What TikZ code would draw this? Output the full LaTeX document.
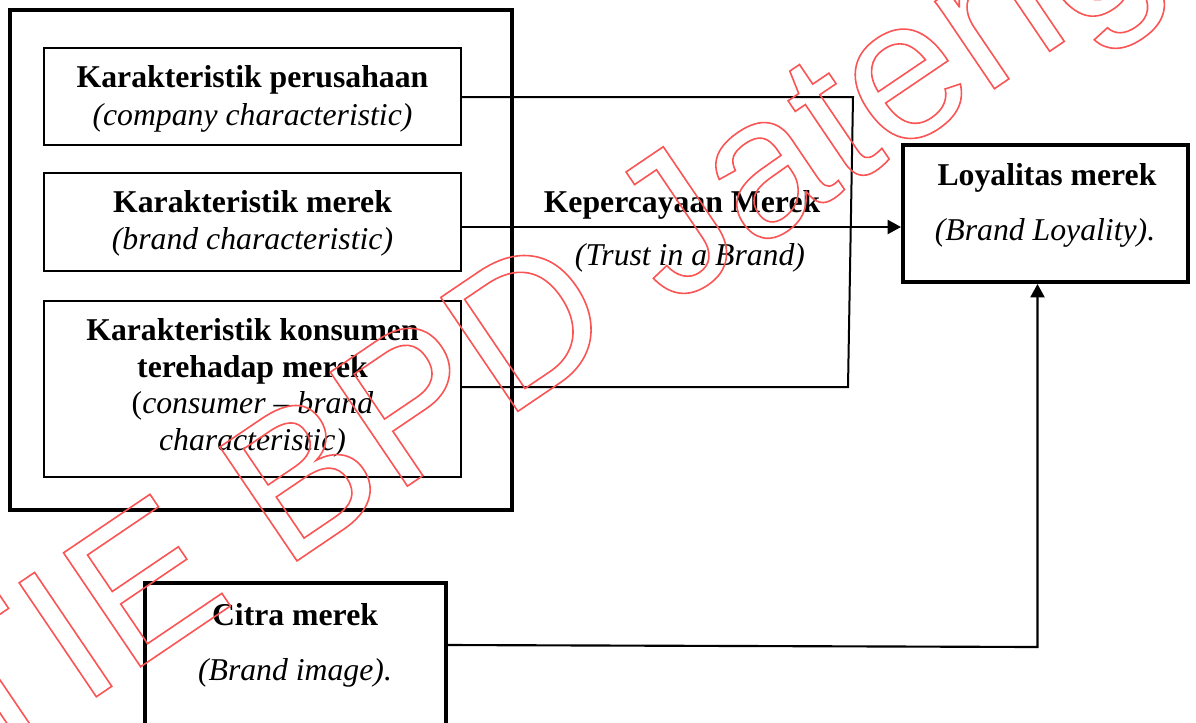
\documentclass[tikz,border=0pt]{standalone}
\usepackage{fontspec}
\setmainfont{Liberation Serif}
\newfontfamily\wmfont[Kerning=Off]{Liberation Sans}
\usetikzlibrary{arrows.meta}
\definecolor{wmred}{RGB}{250,85,85}
\begin{document}
\begin{tikzpicture}[x=0.75pt,y=-0.75pt,
  every node/.style={inner sep=0pt, outer sep=0pt},
  thinbox/.style={draw, line width=1.5pt},
  thickbox/.style={draw, line width=3pt},
  framebox/.style={draw, line width=2.5pt},
  tbold/.style={anchor=base, font=\fontsize{23.8}{27.6}\selectfont\bfseries},
  titalic/.style={anchor=base, font=\fontsize{23.8}{27.6}\selectfont\itshape},
  tplain/.style={anchor=base, font=\fontsize{23.8}{27.6}\selectfont},
  conn/.style={line width=1.5pt, line join=miter},
  arr/.style={line width=1.6pt, line join=miter, -{Triangle[length=10pt,width=10.5pt]}},
  wmark/.style={anchor=base west, text=wmred, font=\wmfont\fontsize{150}{150}\selectfont}
]
\useasboundingbox (0,0) rectangle (1196,722);

% boxes
\node[framebox, minimum width=376.5pt, minimum height=375pt] (outer) at (261,260) {};
\node[thinbox, minimum width=312.75pt, minimum height=72.75pt] (b1) at (252.5,96.5) {};
\node[thinbox, minimum width=312.75pt, minimum height=73.5pt] (b2) at (252.5,222) {};
\node[thinbox, minimum width=312.75pt, minimum height=132pt] (b3) at (252.5,389) {};
\node[thickbox, minimum width=213.75pt, minimum height=102.75pt] (loy) at (1045.5,213.5) {};
\node[thickbox, minimum width=225.75pt, minimum height=107.25pt] (cit) at (295.5,654.5) {};

% texts
\node[tbold] (t1a) at (252.5,87) {Karakteristik perusahaan};
\node[titalic] (t1b) at (252.5,125) {(company characteristic)};
\node[tbold] (t2a) at (252.5,212) {Karakteristik merek};
\node[titalic] (t2b) at (252.5,249) {(brand characteristic)};
\node[tbold] (t3a) at (252.5,340) {Karakteristik konsumen};
\node[tbold] (t3b) at (252.5,377) {terehadap merek};
\node[tplain] (t3c) at (252.5,413) {(\textit{consumer – brand}};
\node[titalic] (t3d) at (252.5,450) {characteristic)};
\node[tbold] (kep) at (682,212) {Kepercayaan Merek};
\node[titalic] (tru) at (690,265) {(Trust in a Brand)};
\node[tbold] (l1) at (1047,185) {Loyalitas merek};
\node[titalic] (l2) at (1045,240) {(Brand Loyality).};
\node[tbold] (c1t) at (295,625) {Citra merek};
\node[titalic] (c2t) at (295,680) {(Brand image).};

% connectors
\coordinate (ca) at (853,97);
\coordinate (cb) at (848,387);
\coordinate (cm) at (700,227);
\coordinate (cc) at (446,645);
\coordinate (cd) at (1037.5,647);
\draw[conn] (b1.east |- ca) -- (ca) -- (cb) -- (b3.east |- cb);
\draw[arr, shorten >=1.5pt] (b2.east |- cm) -- (loy.west |- cm);
\draw[arr, shorten >=1.5pt] (cit.east |- cc) -- (cd) -- (cd |- loy.south);

% watermark
\node[wmark, rotate=34.1] (wm) at (-130.6,850.4)
  {\special{pdf:literal direct q 1 Tr 1.2 w 0.98 0.333 0.333 RG}STIE BPD Jateng\special{pdf:literal direct Q}};
\end{tikzpicture}
\end{document}
